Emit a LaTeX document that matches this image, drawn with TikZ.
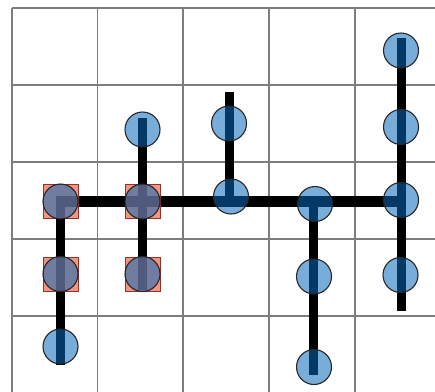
\documentclass[tikz,border=0pt]{standalone}
\definecolor{nodeblue}{RGB}{10,105,185}
\definecolor{sqfill}{RGB}{233,105,76}
\definecolor{sqedge}{RGB}{150,50,40}
\definecolor{gridgray}{RGB}{125,125,125}
\tikzset{
  gridline/.style={draw=gridgray, line width=1.2pt},
  vbar/.style={line width=9pt, line cap=butt},
  hbar/.style={line width=11pt, line cap=butt},
  site/.style={circle, minimum size=35pt, inner sep=0pt, fill=nodeblue,
    fill opacity=0.55, draw=black!85, line width=1.1pt},
  marker/.style={rectangle, minimum width=35pt, minimum height=34pt, inner sep=0pt,
    fill=sqfill, fill opacity=0.7, draw=sqedge, line width=0.9pt},
}
\begin{document}
\begin{tikzpicture}[x=1pt,y=-1pt]
\useasboundingbox (0,0) rectangle (435,391);
% lattice
\begin{scope}
  \clip (0,0) rectangle (435,391);
  \foreach \x in {12,97.5,183,269,355} \draw[gridline] (\x,8) -- (\x,400);
  \foreach \y in {8,85,162,239,316} \draw[gridline] (12,\y) -- (440,\y);
\end{scope}

% site centres
\coordinate (a0) at (60.5,201.5);
\coordinate (a1) at (60.5,274);
\coordinate (a2) at (60.5,346.5);
\coordinate (b0) at (142.5,129.5);
\coordinate (b1) at (142.5,201.5);
\coordinate (b2) at (142.5,274);
\coordinate (c0) at (229,123.5);
\coordinate (c1) at (231,196.5);
\coordinate (d0) at (315,204);
\coordinate (d1) at (314,276.5);
\coordinate (d2) at (314,367);
\coordinate (e0) at (401,50.5);
\coordinate (e1) at (401,127);
\coordinate (e2) at (401,200);
\coordinate (e3) at (400.5,275);

% branch ends and junctions
\coordinate (hstart) at (56,201.5);
\coordinate (hend)   at (401,201.5);
\coordinate (ja) at (60.5,201.5);
\coordinate (aend) at (60.5,365);
\coordinate (btop) at (142.5,118);
\coordinate (bend) at (142.5,290);
\coordinate (ctop) at (229,92);
\coordinate (jc) at (229,201.5);
\coordinate (jd) at (313.5,201.5);
\coordinate (dend) at (313.5,375);
\coordinate (etop) at (401,38);
\coordinate (eend) at (401,311);

% branches
\draw[hbar] (hstart) -- (hend);
\draw[vbar] (ja) -- (aend);
\draw[vbar] (btop) -- (bend);
\draw[vbar] (ctop) -- (jc);
\draw[vbar] (jd) -- (dend);
\draw[vbar] (etop) -- (eend);

% marked sites
\node[marker] (qa0) at (a0) {};
\node[marker] (qa1) at (a1) {};
\node[marker] (qb1) at (b1) {};
\node[marker] (qb2) at (b2) {};

% sites
\foreach \n in {a0,a1,a2,b0,b1,b2,c0,c1,d0,d1,d2,e0,e1,e2,e3}
  \node[site] (s\n) at (\n) {};
\end{tikzpicture}
\end{document}
